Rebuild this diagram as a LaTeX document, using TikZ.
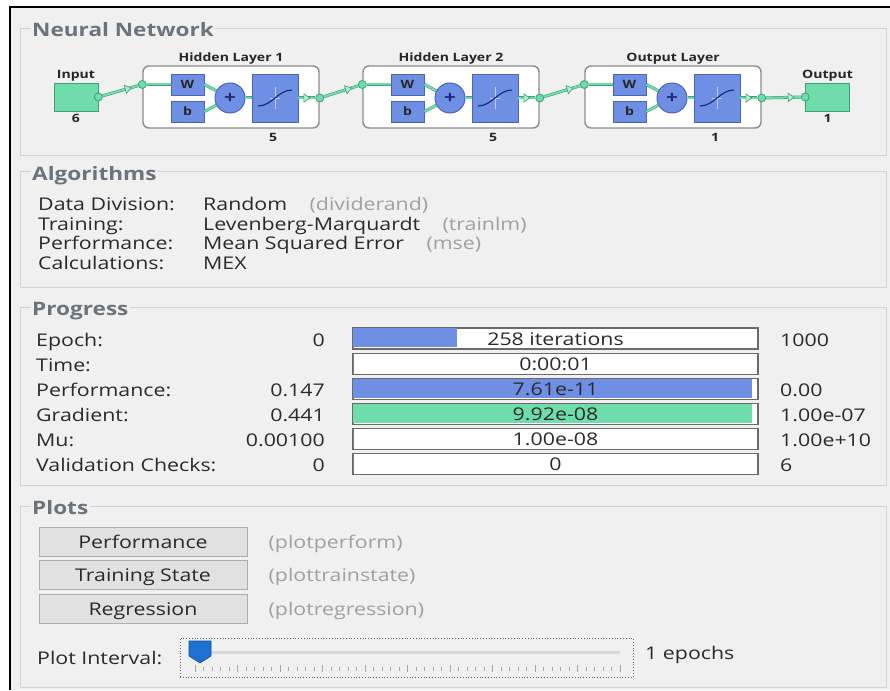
\documentclass[tikz,border=0pt]{standalone}
\usepackage{fontspec}
\setmainfont{Open Sans}[FakeStretch=1.22]
\usetikzlibrary{arrows.meta,positioning,calc,shapes.geometric}
\definecolor{winbg}{HTML}{F0F0F0}
\definecolor{grpline}{HTML}{D3D3D3}
\definecolor{ttlgray}{HTML}{6B747C}
\definecolor{txtdark}{HTML}{2A2A2A}
\definecolor{txtdim}{HTML}{A0A0A0}
\definecolor{nnblue}{HTML}{6F8FE4}
\definecolor{nnbluedk}{HTML}{4A64B8}
\definecolor{nncurve}{HTML}{1C2C7A}
\definecolor{nngreen}{HTML}{6FDDAB}
\definecolor{nngreendk}{HTML}{3E9E74}
\definecolor{barline}{HTML}{6B6B6B}
\definecolor{btnfill}{HTML}{E1E1E1}
\definecolor{btnline}{HTML}{ADADAD}
\definecolor{thumb}{HTML}{1E70D2}
\tikzset{
  grp/.style={draw=grpline,line width=1pt},
  grptitle/.style={font=\bfseries\fontsize{18.5}{21}\selectfont,text=ttlgray,fill=winbg,
    inner sep=1.5pt,anchor=west,text height=13.5pt,text depth=0pt},
  rowtext/.style={font=\fontsize{17.5}{20}\selectfont,text=txtdark,inner sep=0pt,
    anchor=west,text height=13pt,text depth=0pt},
  dimtext/.style={rowtext,text=txtdim},
  numtext/.style={rowtext,anchor=east},
  nntext/.style={font=\bfseries\fontsize{11.5}{13}\selectfont,text=black!85,inner sep=0pt},
  layerbox/.style={draw=black!45,fill=white,line width=1.4pt,rounded corners=6pt,
    minimum width=176pt,minimum height=62pt},
  wbox/.style={nntext,draw=nnbluedk,fill=nnblue,line width=.8pt,minimum width=33pt,
    minimum height=21pt},
  sumnode/.style={nntext,circle,draw=nnbluedk,fill=nnblue,line width=1pt,minimum size=30pt,
    font=\bfseries\fontsize{17}{17}\selectfont,text=nncurve},
  tfbox/.style={draw=nnbluedk,fill=nnblue,line width=.8pt,minimum width=46pt,minimum height=48pt},
  iobox/.style={draw=nngreendk,fill=nngreen,line width=.8pt,minimum width=44pt,minimum height=28pt},
  link/.style={draw=nngreendk,double=nngreen,double distance=2pt,line width=.5pt},
  dot/.style={circle,draw=nngreendk,fill=nngreen,line width=.8pt,minimum size=8pt,inner sep=0pt},
  arrowmark/.style={isosceles triangle,isosceles triangle apex angle=70,draw=nngreendk,
    fill=nngreen!55!white,line width=.6pt,inner sep=0pt,minimum size=6pt},
  bar/.style={draw=barline,fill=white,line width=1.2pt,minimum width=405pt,
    minimum height=21pt,inner sep=0pt},
  btn/.style={rowtext,anchor=center,draw=btnline,fill=btnfill,line width=.8pt,
    minimum width=208pt,minimum height=29pt}
}
\begin{document}
\begin{tikzpicture}[x=1pt,y=-1pt]
\useasboundingbox (0,0) rectangle (890,690);
\fill[white] (0,0) rectangle (890,690);
\fill[winbg] (10,7) rectangle (890,690);
\draw[black,line width=2pt] (10,690) -- (10,7) -- (890,7);

% group frames
\draw[grp] (20,29) rectangle (886,155);
\node[grptitle] (ttlnet) at (30.5,30) {Neural Network};
\draw[grp] (20,171) rectangle (886,287);
\node[grptitle] (ttlalg) at (30.5,173.5) {Algorithms};
\draw[grp] (20,307) rectangle (886,485);
\node[grptitle] (ttlprog) at (30.5,309) {Progress};
\draw[grp] (20,506) rectangle (886,687);
\node[grptitle] (ttlplot) at (30.5,508) {Plots};

% network
\node[iobox] (inp) at (76,97) {};
\node[nntext] at (76,76) {Input};
\node[nntext] at (76,118) {6};
\node[iobox] (outp) at (827.5,97) {};
\node[nntext] at (827.5,76) {Output};
\node[nntext] at (827.5,118) {1};
\foreach \i/\L/\name/\n in {1/143/Hidden Layer 1/5,2/363/Hidden Layer 2/5,3/585/Output Layer/1}{
  \node[layerbox] (lay\i) at (\L+88,97) {};
  \node[nntext] (ttl\i) at (\L+88,59) {\name};
  \node[wbox] (w\i) at (\L+44.5,84.5) {W};
  \node[wbox] (b\i) at (\L+44.5,111.5) {b};
  \node[sumnode] (s\i) at (\L+87,98) {+};
  \node[tfbox] (f\i) at (\L+132,98) {};
  \draw[white!55!nnblue,line width=.6pt] ($(f\i.center)+(0,-11)$) -- ($(f\i.center)+(0,11)$);
  \draw[white!55!nnblue,line width=.6pt] ($(f\i.center)+(-5,0)$) -- ($(f\i.center)+(5,0)$);
  \draw[nncurve,line width=1.2pt] ($(f\i.center)+(-17,8)$) .. controls +(14,0) and +(-14,0) .. ($(f\i.center)+(17,-8)$);
  \node[nntext] (n\i) at (\L+130,137) {\n};
  \node[dot] (in\i) at (lay\i.west |- w\i) {};
  \node[dot] (out\i) at (lay\i.east |- f\i) {};
  \draw[link] (in\i) -- (w\i);
  \draw[link] (w\i.east) -- (s\i);
  \draw[link] (b\i.east) -- (s\i);
  \draw[link] (s\i) -- (f\i);
  \draw[link] (f\i) -- (out\i) node[arrowmark,sloped,pos=.45] {};
}
\node[dot] (inpdot) at (inp.east) {};
\node[dot] (outdot) at (outp.west) {};
\draw[link] (inpdot) -- (in1) node[arrowmark,sloped,pos=.7] {};
\draw[link] (out1) -- (in2) node[arrowmark,sloped,pos=.7] {};
\draw[link] (out2) -- (in3) node[arrowmark,sloped,pos=.7] {};
\draw[link] (out3) -- (outdot) node[arrowmark,sloped,pos=.7] {};

% algorithms
\node[rowtext] (alab0) at (38,204) {Data Division:};
\node[rowtext] (aval0) at (203,204) {Random};
\node[dimtext,right=22pt of aval0] {(dividerand)};
\node[rowtext] (alab1) at (38,223.5) {Training:};
\node[rowtext] (aval1) at (203,223.5) {Levenberg-Marquardt};
\node[dimtext,right=22pt of aval1] {(trainlm)};
\node[rowtext] (alab2) at (38,243) {Performance:};
\node[rowtext] (aval2) at (203,243) {Mean Squared Error};
\node[dimtext,right=22pt of aval2] {(mse)};
\node[rowtext] (alab3) at (38,262.5) {Calculations:};
\node[rowtext] (aval3) at (203,262.5) {MEX};

% progress
\foreach \k/\lab/\lo/\fr/\col/\mid/\hi in {
  0/Epoch:/0/0.258/nnblue/258 iterations/1000,
  1/Time://0/white/0:00:01/,
  2/Performance:/0.147/0.988/nnblue/7.61e-11/0.00,
  3/Gradient:/0.441/0.99/nngreen/9.92e-08/1.00e-07,
  4/Mu:/0.00100/0/white/1.00e-08/1.00e+10,
  5/Validation Checks:/0/0/white/0/6}{
  \pgfmathsetmacro\yy{338.5+25.1*\k}
  \node[rowtext] (plab\k) at (36,\yy+1) {\lab};
  \node[numtext] (plo\k) at (325,\yy+1) {\lo};
  \node[bar] (bar\k) at (555.5,\yy) {};
  \fill[\col] ([shift={(1,1)}]bar\k.north west) rectangle ++(403*\fr,19);
  \node[rowtext,anchor=center] (pmid\k) at (bar\k) {\mid};
  \node[rowtext] (phi\k) at (780,\yy+1) {\hi};
}

% plots
\foreach \k/\lab/\fn in {0/Performance/plotperform,1/Training State/plottrainstate,2/Regression/plotregression}{
  \node[btn] (btn\k) at (143,541.5+33.75*\k) {\lab};
  \node[dimtext,right=21pt of btn\k] (fn\k) {(\fn)};
}
\node[rowtext] (pint) at (37,658) {Plot Interval:};
\node[draw=black!60,dotted,line width=.8pt,minimum width=453pt,minimum height=39pt] (slider) at (406.5,657.5) {};
\draw[black!15,line width=3pt] (200,652) -- (620,652);
\foreach \t in {0,...,50}
  \draw[black!35,line width=.7pt] (195+8.5*\t,667) -- ++(0,4);
\foreach \t in {0,...,10}
  \draw[black!35,line width=.7pt] (195+42.5*\t,665) -- ++(0,7);
\filldraw[fill=thumb,draw=thumb!70!black,line width=.6pt] (189,641) -- (211,641) -- (211,656) -- (200,663) -- (189,656) -- cycle;
\node[rowtext] (pep) at (645,653) {1 epochs};
\end{tikzpicture}
\end{document}
